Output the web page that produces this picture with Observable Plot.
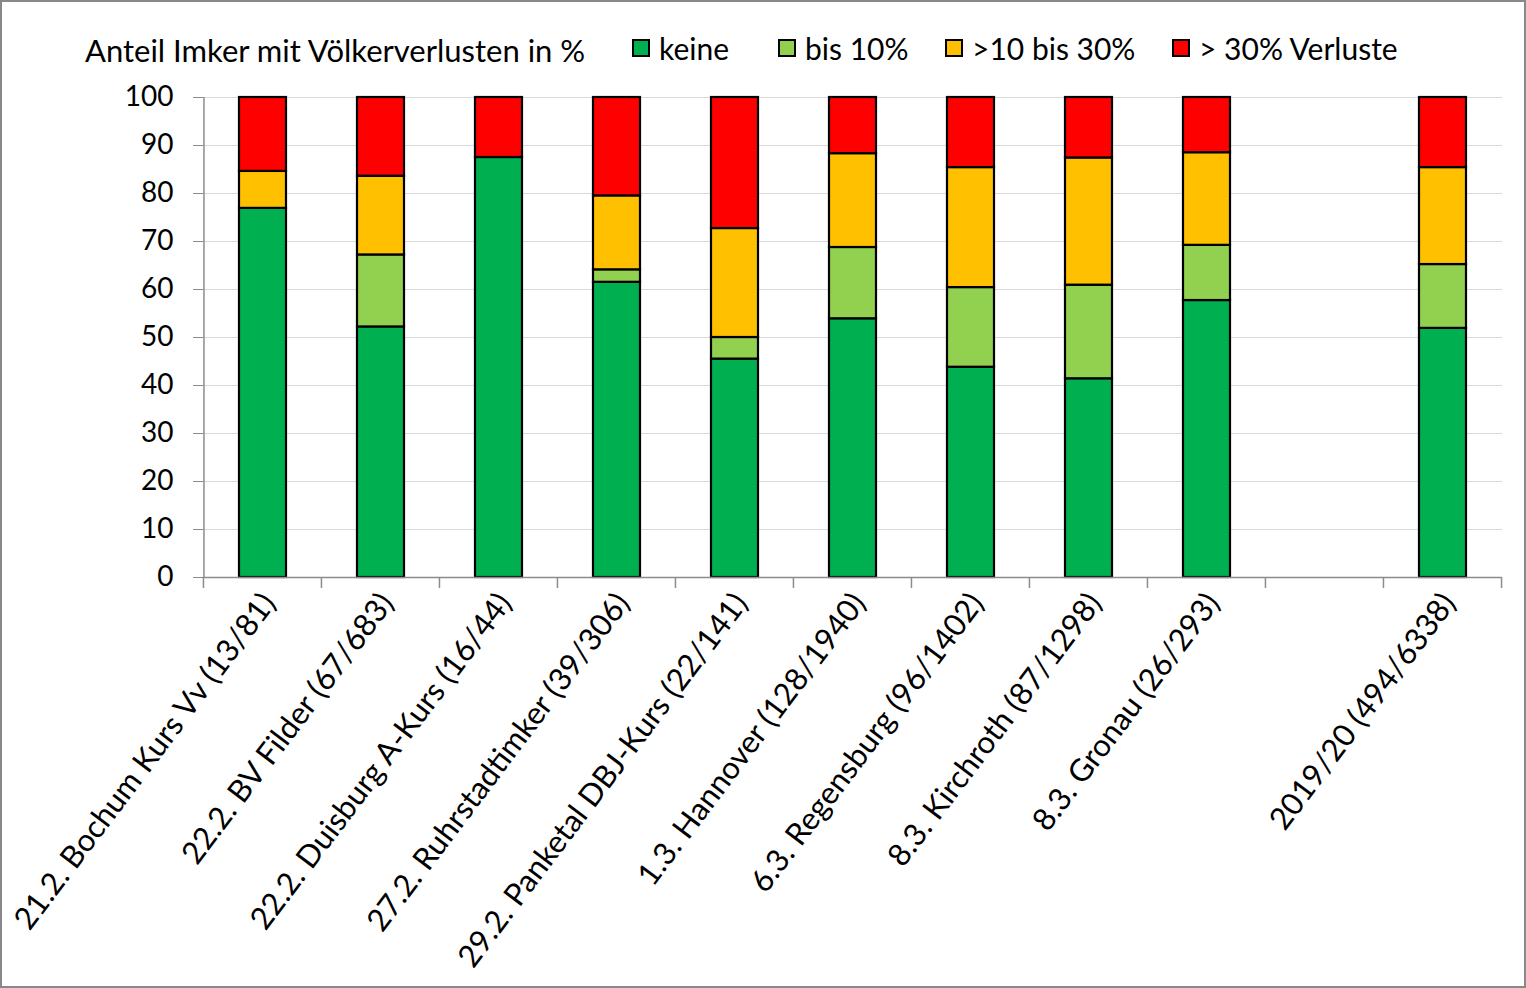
<!DOCTYPE html>
<html>
<head>
<meta charset="utf-8">
<script src="https://cdn.jsdelivr.net/npm/d3@7"></script>
<script src="https://cdn.jsdelivr.net/npm/@observablehq/plot@0.6"></script>
<style>
  html, body { margin: 0; padding: 0; background: #fff; }
  #frame { position: relative; width: 1526px; height: 988px; box-sizing: border-box; border: 2px solid #888; overflow: hidden; font-family: Lato, "Noto Sans", sans-serif; color: #000; }
  #header { position: relative; height: 75px; }
  .t { position: absolute; font-size: 30px; white-space: nowrap; line-height: 1; }
  .sw { position: absolute; width: 18px; height: 18px; border: 2px solid #000; box-sizing: border-box; }
  svg { display: block; }
</style>
</head>
<body>
<div id="frame">
  <div id="header"></div>
  <div id="chart"></div>
</div>
<script>
const categories = [
  "21.2. Bochum Kurs Vv (13/81)",
  "22.2. BV Filder (67/683)",
  "22.2. Duisburg A-Kurs (16/44)",
  "27.2. Ruhrstadtimker (39/306)",
  "29.2. Panketal DBJ-Kurs (22/141)",
  "1.3. Hannover (128/1940)",
  "6.3. Regensburg (96/1402)",
  "8.3. Kirchroth (87/1298)",
  "8.3. Gronau (26/293)",
  "gap",
  "2019/20 (494/6338)"
];
const seriesNames = ["keine", "bis 10%", ">10 bis 30%", "> 30% Verluste"];
const seriesColors = ["#00b050", "#92d050", "#ffc000", "#ff0000"];
const keine  = [76.9, 52.2, 87.5, 61.5, 45.5, 53.9, 43.8, 41.4, 57.7, null, 51.9];
const bis10  = [0,    15.0, 0,    2.6,  4.5,  14.85, 16.6, 19.5, 11.5, null, 13.3];
const mid    = [7.7,  16.4, 0,    15.4, 22.7, 19.55, 25.0, 26.5, 19.3, null, 20.2];
const high   = keine.map((k, i) => k == null ? null : +(100 - k - bis10[i] - mid[i]).toFixed(2));
const yTicks = [0, 10, 20, 30, 40, 50, 60, 70, 80, 90, 100];

const series = [keine, bis10, mid, high];
const rows = [];
categories.forEach((c, i) => {
  series.forEach((s, j) => {
    if (s[i] != null && s[i] > 0) rows.push({cat: c, series: seriesNames[j], value: s[i], order: j});
  });
});

// header
const header = document.getElementById("header");
const title = document.createElement("div");
title.className = "t";
title.style.left = "83px"; title.style.top = "33px"; title.style.fontSize = "31px";
title.textContent = "Anteil Imker mit Völkerverlusten in %";
header.appendChild(title);
const legendX = [630, 776, 943, 1170];
seriesNames.forEach((n, i) => {
  const sw = document.createElement("div");
  sw.className = "sw";
  sw.style.left = legendX[i] + "px"; sw.style.top = "37px";
  sw.style.background = seriesColors[i];
  header.appendChild(sw);
  const t = document.createElement("div");
  t.className = "t";
  t.style.left = (legendX[i] + 27) + "px"; t.style.top = "31px";
  t.textContent = n;
  header.appendChild(t);
});

const W = 1522, H = 909;
const mL = 201, mR = 22, mT = 20, mB = 409;
const step = (W - mL - mR) / categories.length;

const chart = Plot.plot({
  width: W, height: H,
  marginLeft: mL, marginRight: mR, marginTop: mT, marginBottom: mB,
  style: {fontFamily: "Lato, 'Noto Sans', sans-serif", fontSize: "28px", color: "#000", background: "#fff"},
  x: {domain: categories, paddingInner: 0.6, paddingOuter: 0.3, label: null},
  y: {domain: [0, 100], label: null},
  color: {domain: seriesNames, range: seriesColors},
  marks: [
    Plot.gridY(yTicks, {stroke: "#d9d9d9", strokeOpacity: 1, strokeWidth: 1.2}),
    Plot.barY(rows, {x: "cat", y: "value", fill: "series", order: seriesNames, stroke: "#000", strokeWidth: 2.2}),
    Plot.ruleY([0], {stroke: "#8c8c8c", strokeWidth: 1.5}),
    Plot.ruleX([0], {x: () => categories[0], dx: -step / 2, stroke: "#8c8c8c", strokeWidth: 1.5}),
    Plot.axisY(yTicks, {tickSize: 10, tickPadding: 20, stroke: "#8c8c8c", tickFormat: d => d, fontSize: 28, fill: "#000"}),
    Plot.axisX({tickSize: 0, tickRotate: -53, tickPadding: 20, dx: 6, fontSize: 31, fill: "#000",
      tickFormat: d => d === "gap" ? "" : d})
  ]
});

// boundary tick marks at slot edges, positioned via the x scale
const xs = chart.scale("x");
const svg = d3.select(chart);
const y0 = H - mB;
const edges = categories.map(c => xs.apply(c) - step / 2 + xs.bandwidth / 2);
edges.push(edges[edges.length - 1] + step);
svg.append("g").selectAll("line").data(edges).join("line")
  .attr("x1", d => d).attr("x2", d => d)
  .attr("y1", y0).attr("y2", y0 + 11)
  .attr("stroke", "#8c8c8c").attr("stroke-width", 1.5);

document.getElementById("chart").appendChild(chart);
</script>
</body>
</html>
